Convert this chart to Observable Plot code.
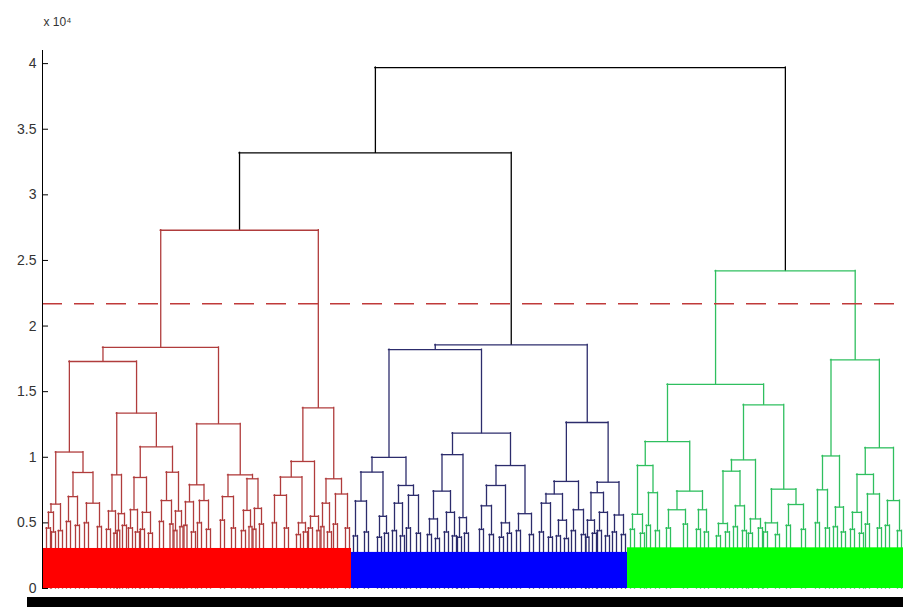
<!DOCTYPE html>
<html><head><meta charset="utf-8">
<script src="https://cdn.jsdelivr.net/npm/d3@7"></script>
<script src="https://cdn.jsdelivr.net/npm/@observablehq/plot@0.6"></script>
<style>body{margin:0;background:#fff;} #chart{width:903px;height:607px;}</style>
</head><body><div id="chart"></div>
<script>
// Dendrogram nodes: [mergeHeight, left, right]; a plain number is a leaf (its rank in the leaf order)
const redTree = [27300,
  [18370,
    [17300,
      [10400,
        [6430, [5800, [4600, 4, 8], [4300, 9, 13]], [4400, 16, 20]],
        [8840, [7000, [5100, 24, 28], [4800, 33, 37]], [6500, [5000, 42, 46], [4700, 55, 59]]]],
      [13360,
        [8660, [5900, [4500, 64, 68], [4200, 71.5, 74.5]], [5700, [4400, 74.75, 77.25], [4800, 80, 84]]],
        [10800,
          [8460, [6000, [4600, 86, 90], [4300, 93, 97]], [5800, [4500, 98, 102], [4200, 106, 110]]],
          [8860, [6700, [5100, 117, 121], [4900, 127.5, 130.5]], [5900, [4400, 131.5, 134.5], [4700, 137.5, 140.5]]]]]],
    [12550,
      [7900, [6600, [4800, 141.5, 144.5], [4300, 149, 153]], [6700, [5000, 155, 159], [4500, 164, 168]]],
      [8660, [7000, [5200, 178, 182], [4600, 189, 193]],
        [8360, [5950, [4400, 199, 203], [4700, 206.5, 209.5]], [6100, [4500, 210.5, 213.5], [4900, 217, 221]]]]]],
  [13770,
    [9680,
      [8490, [7100, [5000, 230, 234], [4600, 242, 246]], [5000, [4100, 254, 258], [4300, 261, 265]]],
      [5500, [4600, 266, 270], [4400, 274.5, 277.5]]],
    [8360, [6500, [4700, 278.5, 281.5], [4300, 285, 289]], [7200, [4900, 291, 295], [4600, 303, 307]]]]];

const blueTree = [18570,
  [18200,
    [10000,
      [8870, [6660, [4000, 311, 315], [4300, 322, 326]], [5500, [3900, 335, 339], [4200, 342, 346]]],
      [7850, [6500, [4400, 350, 354], [4000, 358, 362]], [7100, [4600, 364, 368], [4200, 374, 378]]]],
    [11840,
      [10200, [7420, [5300, [4100, 385, 389], [3800, 393, 397]], [5800, [4300, 402, 406], [4000, 410, 414]]],
        [5400, [3900, 415, 419], [4200, 422, 426]]],
      [9370, [7850, [6300, [4500, 437, 441], [4100, 447, 451]], [5000, [3900, 457, 461], [4200, 465, 469]]],
        [5700, [4400, 474, 478], [4100, 487, 491]]]]],
  [12650,
    [8160, [7200, [6500, [4300, 497, 501], [3900, 506, 510]], [5200, [4000, 514, 518], [3800, 522, 526]]],
      [6000, [4400, 529, 533], [4100, 539, 543]]],
    [8100, [7300, [5200, [3900, 543.5, 546.5], [4200, 550, 554]], [5800, [4400, 555, 559], [4000, 563, 567]]],
      [5600, [4300, 570, 574], [4100, 579, 583]]]]];

const greenTree = [24200,
  [15550,
    [11200,
      [9370, [5650, [4500, 588, 592], [4200, 598, 602]], [7300, [4800, 604, 608], [4400, 613, 617]]],
      [7420, [6000, [4600, 624, 628], [4900, 641, 645]], [6000, [4500, 654, 658], [4300, 662, 666]]]],
    [14000,
      [9800, [8940, [4950, [4000, 674, 678], [4300, 683, 687]], [6300, [4700, 691, 695], [4400, 700, 704]]],
        [5300, [4200, 706, 710], [4600, 716, 720]]],
      [7570, [5000, [4300, 721, 725], [4100, 733, 737]], [6400, [4800, 744, 748], [4500, 759, 763]]]]],
  [17430,
    [10100, [7520, [5000, 773, 777], [4600, 783, 787]], [6200, [4700, 791, 795], [4300, 799, 803]]],
    [10720, [8690, [5800, [4500, 808, 812], [4200, 817, 821]], [7200, [4900, 823, 827], [4600, 835, 839]]],
      [6700, [4800, 843, 847], [4400, 855, 859]]]]];

// upper merges (drawn in black)
const upperHeights = [33200, 39700];

// clusters: colour of links, colour of dense leaf block, leaf range, block height
const clusterNames = ["red", "blue", "green"];
const clusterLineColors = ["#b03c3c", "#2c2c6c", "#2fbf5f"];
const clusterFillColors = ["#ff0000", "#0000ff", "#00ff00"];
const clusterStart = [0, 309, 585];
const clusterEnd = [309, 585, 870];
const clusterBlockTop = [3050, 2750, 3100];

const cutHeight = 21700;
const yTicks = [0, 5000, 10000, 15000, 20000, 25000, 30000, 35000, 40000];
const yTickLabels = ["0", "0.5", "1", "1.5", "2", "2.5", "3", "3.5", "4"];

// ---- layout ----
const horiz = [], vert = [];
function lay(node, color) {
  if (typeof node === "number") return {x: node, h: 0};
  const [h, l, r] = node;
  const L = lay(l, color), R = lay(r, color);
  horiz.push({x1: L.x, x2: R.x, y: h, color});
  vert.push({x: L.x, y1: L.h, y2: h, color});
  vert.push({x: R.x, y1: R.h, y2: h, color});
  return {x: (L.x + R.x) / 2, h};
}
const rootTree = [upperHeights[1], [upperHeights[0], redTree, blueTree], greenTree];
function layUpper(node) {
  if (node === redTree) return lay(node, clusterLineColors[0]);
  if (node === blueTree) return lay(node, clusterLineColors[1]);
  if (node === greenTree) return lay(node, clusterLineColors[2]);
  const [h, l, r] = node;
  const L = layUpper(l), R = layUpper(r);
  horiz.push({x1: L.x, x2: R.x, y: h, color: "#000"});
  vert.push({x: L.x, y1: L.h, y2: h, color: "#000"});
  vert.push({x: R.x, y1: R.h, y2: h, color: "#000"});
  return {x: (L.x + R.x) / 2, h};
}
layUpper(rootTree);

const clusters = clusterNames.map((n, i) => ({
  name: n, start: clusterStart[i], end: clusterEnd[i], blockTop: clusterBlockTop[i], fill: clusterFillColors[i]
}));

const plot = Plot.plot({
  width: 903, height: 607,
  marginLeft: 42, marginRight: 0, marginTop: 50, marginBottom: 19,
  style: {background: "#fff", fontFamily: "Liberation Sans, Arial, sans-serif"},
  x: {domain: [0, 861], axis: null},
  y: {domain: [0, 41000], axis: null},
  color: {type: "identity"},
  marks: [
    Plot.ruleX(vert, {x: "x", y1: "y1", y2: "y2", stroke: "color", strokeWidth: 1.3, strokeLinecap: "square"}),
    Plot.ruleY(horiz, {y: "y", x1: "x1", x2: "x2", stroke: "color", strokeWidth: 1.3, strokeLinecap: "square"}),
    Plot.rect(clusters, {x1: "start", x2: "end", y1: 0, y2: "blockTop", fill: "fill"}),
    Plot.ruleY([cutHeight], {x1: 0, x2: 861, stroke: "#c03a3a", strokeWidth: 1.3, strokeDasharray: "20,12"}),
    Plot.ruleX([0], {y1: 0, y2: 41000, stroke: "#000", strokeWidth: 1}),
    Plot.ruleY(yTicks, {x1: 0, x2: 6, stroke: "#000", strokeWidth: 1}),
    Plot.axisY(yTicks, {tickSize: 0, tickPadding: 6, tickFormat: (d) => yTickLabels[yTicks.indexOf(d)], fontSize: 14, fill: "#333"}),
    Plot.text(["x 10⁴"], {frameAnchor: "top-left", dx: 1, dy: -33, fontSize: 12, fill: "#333", textAnchor: "start"})
  ]
});
document.getElementById("chart").appendChild(plot);
// overlapping leaf labels along the bottom form a solid black band
d3.select(plot).append("rect").attr("x", 27).attr("y", 597).attr("width", 876).attr("height", 10).attr("fill", "#000");
</script>
</body></html>
